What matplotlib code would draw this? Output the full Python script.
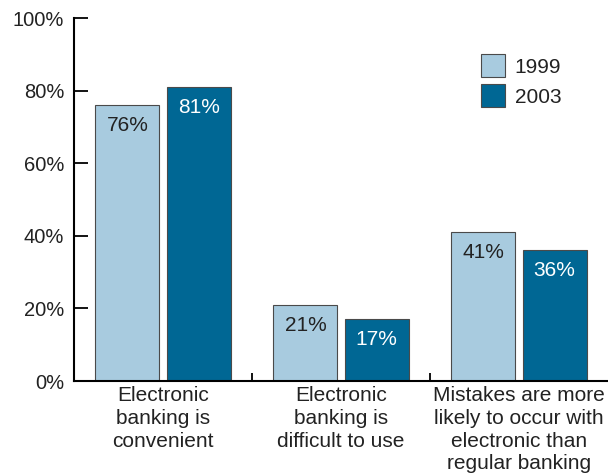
import numpy as np
import matplotlib.pyplot as plt

plt.rcParams['font.family'] = ['Liberation Sans', 'DejaVu Sans']

# data
categories = ["Electronic\nbanking is\nconvenient",
              "Electronic\nbanking is\ndifficult to use",
              "Mistakes are more\nlikely to occur with\nelectronic than\nregular banking"]
years = ["1999", "2003"]
vals_1999 = [76, 21, 41]
vals_2003 = [81, 17, 36]
yticks = [0, 20, 40, 60, 80, 100]

light = "#a8cbdf"
dark = "#006794"
edge = "#4a4a4a"
txt = "#222222"

fig = plt.figure(figsize=(6.08, 4.73), dpi=100)
ax = fig.add_axes([74/608, 92/473, 534/608, 363/473])

x = np.arange(len(categories))
w = 0.36
b1 = ax.bar(x - 0.2, vals_1999, w, color=light, edgecolor=edge, linewidth=0.8, label=years[0])
b2 = ax.bar(x + 0.2, vals_2003, w, color=dark, edgecolor=edge, linewidth=0.8, label=years[1])

for rect, v in zip(b1, vals_1999):
    ax.text(rect.get_x() + rect.get_width()/2, v - 3.0, f"{v}%", ha="center", va="top",
            fontsize=15, color=txt)
for rect, v in zip(b2, vals_2003):
    ax.text(rect.get_x() + rect.get_width()/2, v - 3.0, f"{v}%", ha="center", va="top",
            fontsize=15, color="white")

ax.set_xlim(-0.5, 2.5)
ax.set_ylim(0, 100)
ax.set_yticks(yticks)
ax.set_yticklabels([f"{t}%" for t in yticks], fontsize=14.5, color=txt)
ax.tick_params(axis="y", direction="in", length=10, width=1.3, pad=7)

# separators between groups as x ticks, labels as text
ax.set_xticks([0.5, 1.5])
ax.set_xticklabels([])
ax.tick_params(axis="x", direction="in", length=6, width=1.3)
for xi, lab in zip(x, categories):
    ax.text(xi, -1.4, lab, ha="center", va="top", fontsize=15, color=txt,
            linespacing=1.25, clip_on=False)

ax.spines["top"].set_visible(False)
ax.spines["right"].set_visible(False)
ax.spines["left"].set_linewidth(1.5)
ax.spines["bottom"].set_linewidth(1.5)

leg = ax.legend(loc="upper left", bbox_to_anchor=(0.763, 0.90), frameon=False, fontsize=15,
                handlelength=1.15, handleheight=1.3, handletextpad=0.45, labelspacing=0.35,
                borderaxespad=0, borderpad=0)
for t in leg.get_texts():
    t.set_color(txt)

fig.savefig("out.png", dpi=100)
